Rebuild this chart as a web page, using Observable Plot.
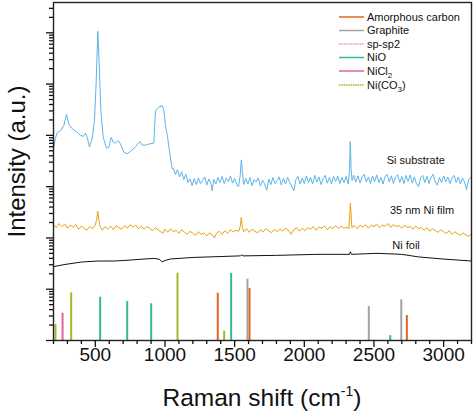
<!DOCTYPE html>
<html>
<head>
<meta charset="utf-8">
<script src="https://cdn.jsdelivr.net/npm/d3@7"></script>
<script src="https://cdn.jsdelivr.net/npm/@observablehq/plot@0.6"></script>
<style>
  html, body { margin: 0; padding: 0; background: #fff; }
  svg { display: block; }
</style>
</head>
<body>
<div id="chart"></div>
<script>
// ---- Data (Raman shift in cm^-1, intensity as log10 of a.u.) ----
const siSubstrateLog10 = [
[202,3.77],[214,3.94],[227,4.06],[250,4.09],[274,4.19],[293,4.41],[310,4.22],[334,4.13],[370,4.06],[394,4.00],
[413,3.98],[430,4.04],[442,3.96],[458,3.77],[478,3.94],[494,4.29],[506,5.01],[518,6.03],[527,5.46],[540,4.48],
[557,3.96],[580,3.75],[597,3.77],[614,3.96],[628,3.87],[645,3.85],[664,3.90],[681,3.83],[705,3.67],[729,3.64],
[753,3.69],[789,3.78],[819,3.88],[837,3.81],[860,3.81],[884,3.83],[920,3.85],[932,4.48],[956,4.55],[980,4.58],
[992,4.48],[1004,4.19],[1018,3.98],[1035,3.64],[1052,3.35],
[1060,3.36],[1075,3.24],[1090,3.33],[1105,3.19],[1120,3.29],[1135,3.14],[1150,3.24],[1165,3.08],[1180,3.15],[1195,3.02],
[1210,3.16],[1225,3.04],[1240,3.17],[1255,3.06],[1270,3.12],[1285,3.19],[1300,3.03],[1315,3.15],[1330,3.06],[1339,2.92],
[1350,3.14],[1365,3.05],[1380,3.18],[1395,3.08],[1410,3.20],[1425,3.06],[1440,3.17],[1455,3.10],[1470,3.21],[1485,3.07],
[1500,3.16],[1515,3.04],[1528,3.00],[1540,3.22],[1548,3.52],[1556,3.28],[1565,3.04],[1580,3.16],[1595,3.05],[1610,3.18],
[1625,3.02],[1640,3.14],[1655,3.09],[1670,3.17],[1685,3.01],[1700,3.13],[1715,3.05],[1730,2.93],[1745,3.15],[1760,3.04],
[1775,3.18],[1790,3.06],[1805,3.12],[1820,3.19],[1835,3.03],[1850,3.16],[1865,3.05],[1880,3.18],[1895,3.08],[1910,3.01],
[1925,2.92],[1940,3.14],[1955,3.20],[1970,3.05],[1985,3.17],[2000,3.06],[2015,3.21],[2030,3.08],[2045,3.18],[2060,3.05],
[2075,3.22],[2090,3.09],[2105,3.19],[2120,3.04],[2135,3.16],[2150,3.22],[2165,3.07],[2180,3.18],[2195,3.05],[2210,3.20],
[2225,3.10],[2240,3.21],[2255,3.06],[2270,3.18],[2285,3.08],[2300,3.20],[2315,3.05],[2324,3.30],[2330,3.88],[2336,3.35],
[2343,3.12],[2355,3.22],[2370,3.09],[2385,3.21],[2400,3.07],[2415,3.19],[2430,3.24],[2445,3.09],[2460,3.19],[2475,3.06],
[2490,3.21],[2505,3.10],[2520,3.23],[2535,3.08],[2550,3.18],[2565,3.05],[2580,3.20],[2595,3.24],[2610,3.09],[2625,3.21],
[2640,3.06],[2655,3.19],[2670,3.23],[2685,3.08],[2700,3.20],[2715,3.06],[2730,3.22],[2745,3.10],[2760,3.23],[2775,3.07],
[2790,3.19],[2805,3.06],[2820,3.00],[2835,3.18],[2850,3.22],[2865,3.08],[2880,3.20],[2895,3.06],[2910,3.19],[2925,3.24],
[2940,3.09],[2955,3.03],[2970,3.18],[2985,3.08],[3000,3.21],[3015,3.09],[3030,3.19],[3045,3.06],[3060,3.17],[3075,3.22],
[3090,3.08],[3105,3.19],[3120,3.05],[3135,3.17],[3150,3.09],[3165,2.94],[3180,3.15],[3200,3.19]
];

const niFilmLog10 = [
[200,2.26],[220,2.20],[240,2.28],[260,2.22],[280,2.27],[300,2.19],[320,2.25],[340,2.21],[360,2.26],[380,2.17],
[400,2.23],[420,2.19],[440,2.15],[460,2.22],[480,2.18],[500,2.25],[510,2.36],[518,2.52],[526,2.34],[535,2.22],
[550,2.15],[570,2.22],[590,2.17],[610,2.23],[630,2.16],[650,2.24],[670,2.20],[690,2.17],[710,2.24],[730,2.19],
[750,2.26],[770,2.21],[790,2.25],[810,2.18],[830,2.23],[850,2.17],[870,2.22],[890,2.19],[910,2.14],[930,2.20],
[950,2.16],[970,2.12],[985,2.09],[1000,2.17],[1020,2.11],[1040,2.18],[1060,2.12],[1080,2.15],[1100,2.09],[1120,2.16],
[1140,2.11],[1160,2.07],[1180,2.13],[1200,2.09],[1220,2.05],[1240,2.12],[1260,2.07],[1280,2.10],[1300,2.04],[1320,2.10],
[1340,2.06],[1355,2.00],[1370,2.09],[1390,2.13],[1410,2.07],[1430,2.14],[1450,2.09],[1470,2.16],[1490,2.12],[1510,2.15],
[1530,2.13],[1540,2.22],[1548,2.40],[1556,2.20],[1565,2.12],[1585,2.18],[1605,2.11],[1625,2.17],[1645,2.13],[1665,2.10],
[1685,2.16],[1705,2.12],[1725,2.18],[1745,2.14],[1765,2.10],[1785,2.17],[1805,2.12],[1825,2.18],[1845,2.13],[1865,2.19],
[1885,2.15],[1905,2.07],[1925,2.16],[1945,2.20],[1965,2.13],[1985,2.19],[2005,2.14],[2025,2.20],[2045,2.17],[2065,2.22],
[2085,2.15],[2105,2.21],[2125,2.19],[2145,2.23],[2165,2.16],[2185,2.22],[2205,2.18],[2225,2.24],[2245,2.18],[2265,2.23],
[2285,2.19],[2305,2.21],[2320,2.18],[2326,2.45],[2331,2.68],[2336,2.45],[2342,2.20],[2360,2.24],[2380,2.18],[2400,2.25],
[2420,2.21],[2440,2.26],[2460,2.19],[2480,2.25],[2500,2.22],[2520,2.27],[2540,2.20],[2560,2.25],[2580,2.23],[2600,2.28],
[2620,2.21],[2640,2.26],[2660,2.22],[2680,2.24],[2700,2.19],[2720,2.25],[2740,2.20],[2760,2.22],[2780,2.17],[2800,2.23],
[2820,2.18],[2840,2.20],[2860,2.15],[2880,2.20],[2900,2.13],[2920,2.18],[2940,2.14],[2960,2.11],[2980,2.16],[3000,2.12],
[3020,2.09],[3040,2.14],[3060,2.07],[3080,2.12],[3100,2.08],[3120,2.05],[3140,2.10],[3160,2.06],[3180,2.03],[3200,2.08]
];

const niFoilLog10 = [
[200,1.44],[276,1.48],[400,1.53],[520,1.55],[640,1.55],[760,1.57],[855,1.59],[927,1.60],[963,1.58],[980,1.53],
[1000,1.56],[1040,1.59],[1207,1.62],[1540,1.65],[1550,1.67],[1560,1.65],[1800,1.66],[2090,1.68],[2300,1.68],[2324,1.68],
[2331,1.73],[2338,1.68],[2522,1.70],[2700,1.68],[2820,1.63],[2990,1.59],[3200,1.55]
];

// Reference peak positions (cm^-1), relative heights and assigned phase
const refShift  = [214, 265, 327, 535, 729, 901, 1090, 1379, 1425, 1475, 1592, 1607, 2463, 2617, 2696, 2736];
const refHeight = [2.05, 3.40, 8.5, 6.98, 5.75, 5.19, 20.5, 8.36, 1.52, 20.5, 15.7, 10.3, 4.60, 1.24, 6.21, 3.07];
const refPhase  = ["Ni(CO3)","NiCl2","Ni(CO3)","NiO","NiO","NiO","Ni(CO3)","Amorphous carbon","Ni(CO3)","NiO",
                   "Graphite","Amorphous carbon","Graphite","NiO","Graphite","Amorphous carbon"];

const phases      = ["Amorphous carbon","Graphite","sp-sp2","NiO","NiCl2","Ni(CO3)"];
const phaseColors = ["#e8641b","#a3a3a3","#e79ac0","#35b993","#e0619f","#aab52a"];
const phaseDashed = [false,false,true,false,false,true];

const spectrumNames  = ["Si substrate","35 nm Ni film","Ni foil"];
const spectrumColors = ["#5db4e8","#e8a010","#111111"];
// label anchor positions in data units (shift, intensity)
const labelShift     = [2800, 2845, 2730];
const labelIntensity = [3200, 340, 70];

const xMajorTicks = [500, 1000, 1500, 2000, 2500, 3000];
const xMinorTicks = d3.range(200, 3201, 100).filter(v => v % 500 !== 0);
const yMajorTicks = [1, 10, 100, 1e3, 1e4, 1e5, 1e6];
const yMinorTicks = [];
for (let k = 0; k <= 6; k++) for (let m = 2; m <= 9; m++) { const v = m * 10 ** k; if (v <= 3.9e6) yMinorTicks.push(v); }

// ---- Build tables ----
const refs = refShift.map((s, i) => ({shift: s, height: refHeight[i], phase: refPhase[i]}));
const labels = spectrumNames.map((n, i) => ({name: n, x: labelShift[i], y: labelIntensity[i]}));
const toRow = d => ({x: d[0], y: 10 ** d[1]});

const font = "'Liberation Sans', Arial, Helvetica, sans-serif";

const chart = Plot.plot({
  width: 474,
  height: 414,
  marginLeft: 53,
  marginRight: 3,
  marginTop: 2,
  marginBottom: 74,
  style: {fontFamily: font, background: "#fff", color: "#111"},
  x: {domain: [200, 3200], label: null},
  y: {type: "log", domain: [1, 3.9e6], label: null},
  color: {domain: phases, range: phaseColors},
  marks: [
    Plot.ruleX(refs, {x: "shift", y1: () => 1, y2: "height", stroke: "phase", strokeWidth: 2}),
    Plot.line(siSubstrateLog10.map(toRow), {x: "x", y: "y", stroke: spectrumColors[0], strokeWidth: 1}),
    Plot.line(niFilmLog10.map(toRow), {x: "x", y: "y", stroke: spectrumColors[1], strokeWidth: 1}),
    Plot.line(niFoilLog10.map(toRow), {x: "x", y: "y", stroke: spectrumColors[2], strokeWidth: 1}),
    Plot.text(labels, {x: "x", y: "y", text: "name", fontSize: 11, fill: "#111", textAnchor: "middle"}),
    Plot.frame({stroke: "#222", strokeWidth: 1.4}),
    Plot.axisX(xMajorTicks, {tickSize: 7, tickPadding: 0, fontSize: 19, strokeWidth: 1.3, tickFormat: d => String(d), label: null}),
    Plot.axisX(xMinorTicks, {tickSize: 4, strokeWidth: 1.3, tickFormat: () => "", label: null}),
    Plot.axisY(yMajorTicks, {tickSize: 7, strokeWidth: 1.3, tickFormat: () => "", label: null}),
    Plot.axisY(yMinorTicks, {tickSize: 4, strokeWidth: 1.3, tickFormat: () => "", label: null})
  ]
});

const svg = d3.select(chart);

// Legend
const legend = svg.append("g").attr("font-family", font).attr("font-size", 11)
  .attr("fill", "#111").attr("text-anchor", "start");
const legendY = [17, 30.5, 44, 57.5, 71, 85];
phases.forEach((p, i) => {
  const y = legendY[i];
  legend.append("line")
    .attr("x1", 339).attr("x2", 364).attr("y1", y).attr("y2", y)
    .attr("stroke", phaseColors[i]).attr("stroke-width", 1.5)
    .attr("stroke-dasharray", phaseDashed[i] ? "1.5,0.8" : null);
  const t = legend.append("text").attr("x", 367).attr("y", y).attr("dy", "0.35em").attr("text-anchor", "start");
  if (p === "NiCl2") {
    t.append("tspan").text("NiCl");
    t.append("tspan").attr("font-size", 8).attr("dy", 3).text("2");
  } else if (p === "Ni(CO3)") {
    t.append("tspan").text("Ni(CO");
    t.append("tspan").attr("font-size", 8).attr("dy", 3).text("3");
    t.append("tspan").attr("dy", -3).text(")");
  } else {
    t.text(p);
  }
});

// Axis titles
const xt = svg.append("text")
  .attr("x", 262).attr("y", 406).attr("text-anchor", "middle")
  .attr("font-family", font).attr("font-size", 24.5).attr("fill", "#111");
xt.append("tspan").text("Raman shift (cm");
xt.append("tspan").attr("font-size", 14).attr("dy", -10).text("-1");
xt.append("tspan").attr("dy", 10).text(")");

svg.append("text")
  .attr("transform", "translate(25,161.5) rotate(-90)")
  .attr("text-anchor", "middle")
  .attr("font-family", font).attr("font-size", 24).attr("fill", "#111")
  .text("Intensity (a.u.)");

document.getElementById("chart").appendChild(chart);
</script>
</body>
</html>
